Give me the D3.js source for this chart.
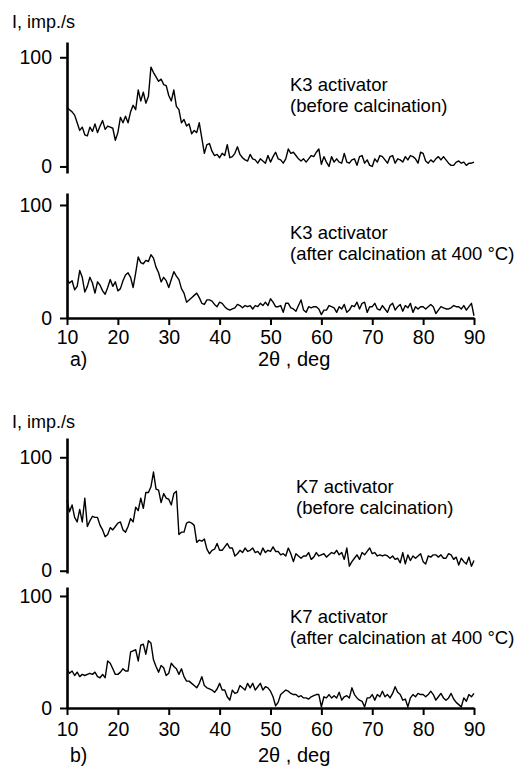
<!DOCTYPE html>
<html><head><meta charset="utf-8">
<script src="https://cdn.jsdelivr.net/npm/d3@7"></script>
<style>
body{margin:0;background:#fff}
svg text{font-family:"Liberation Sans",Arial,sans-serif;fill:#000}
</style>
</head><body>
<svg id="c" width="523" height="767"></svg>
<script>
// sampling grid of 2θ (deg)
const twoTheta = d3.range(10, 90.01, 0.5);

const k3Before = [
54,52,50,47,40,33,36,29,28,36,
32,39,31,37,42,34,37,36,35,24,
31,45,40,46,40,50,56,52,70,60,
68,58,64,91,86,82,78,80,75,74,
65,60,70,55,52,40,43,37,39,30,
33,31,40,26,12,20,21,14,10,11,
8,12,10,20,8,9,12,18,11,8,
6,5,11,7,6,3,7,5,3,10,
4,9,13,7,6,3,7,16,12,13,
10,7,5,7,4,7,10,9,13,16,
2,9,4,0,9,4,7,4,3,12,
4,3,6,7,1,9,10,3,6,1,
0,7,4,10,9,6,3,9,10,3,
7,6,4,9,6,10,9,7,3,13,
12,5,3,6,4,7,9,6,9,6,
3,1,1,4,5,3,4,1,3,3,
4];

const k3After = [
34,31,33,25,28,42,36,23,28,36,
31,22,32,29,24,21,27,34,28,32,
24,26,33,38,40,36,27,40,54,49,
48,51,50,56,53,45,40,32,36,33,
27,34,41,37,34,26,22,14,16,18,
20,22,18,13,12,16,16,15,12,10,
14,13,10,8,7,8,9,12,11,9,
11,10,11,8,11,10,13,11,14,11,
17,14,10,10,11,5,13,13,9,8,
6,11,16,7,5,10,9,10,10,8,
3,7,7,11,10,9,5,10,8,12,
5,7,11,10,14,8,13,14,5,10,
10,13,8,7,11,8,5,11,13,7,
10,12,6,11,9,13,5,10,8,10,
10,8,10,12,10,4,7,10,9,8,
8,9,11,10,10,8,11,7,10,13,
2];

const k7Before = [
62,52,58,47,43,54,43,64,39,44,
48,47,47,40,36,30,32,38,36,39,
42,43,36,34,39,46,43,56,53,64,
55,69,69,74,87,72,71,60,68,64,
63,58,68,70,32,34,34,42,43,42,
40,25,27,26,28,19,15,18,19,24,
18,18,21,24,20,20,13,15,18,16,
20,17,18,20,16,17,14,20,16,18,
17,21,17,17,14,15,13,20,15,8,
15,13,11,13,13,16,10,12,16,13,
14,15,12,14,16,15,18,14,16,10,
20,4,8,11,14,10,16,14,17,20,
15,16,13,14,13,14,13,11,13,10,
11,7,16,6,14,9,13,11,13,15,
8,6,13,12,14,14,12,14,11,11,
15,14,10,12,5,11,8,6,12,4,
9];

const k7After = [
35,31,33,29,32,28,30,29,30,31,
30,32,28,27,30,27,42,40,35,30,
30,32,35,33,33,50,51,52,42,56,
57,48,60,58,43,37,32,38,36,29,
31,40,37,35,30,35,28,24,24,22,
20,18,22,28,20,18,17,16,14,17,
22,16,16,10,7,16,13,14,20,18,
16,22,18,22,16,19,22,16,19,18,
15,10,2,5,12,14,16,15,13,12,
12,10,11,9,9,8,10,11,12,12,
1,10,9,12,9,11,9,14,7,10,
11,9,18,12,9,7,6,1,9,9,
12,7,12,10,15,10,12,9,13,19,
14,12,7,8,1,9,12,10,13,12,
12,10,12,15,12,7,10,13,9,7,
9,13,8,5,3,1,9,6,12,10,
13];

const xTicks = [10,20,30,40,50,60,70,80,90];
const yTicks = [0,100];
const yTitle = "I, imp./s";
const xTitle = "2\u03b8 , deg";
const partLabels = ["a)", "b)"];
const captions = [
  ["K3 activator", "(before calcination)"],
  ["K3 activator", "(after calcination at 400 \u00b0C)"],
  ["K7 activator", "(before calcination)"],
  ["K7 activator", "(after calcination at 400 \u00b0C)"]
];

const svg = d3.select("#c");
const x = d3.scaleLinear().domain([10, 90]).range([67, 474]);

const panels = [
  {data: k3Before, dom: [-6, 114], rng: [173, 42], cap: captions[0], capX: 290, capY: 91, xAxis: false},
  {data: k3After,  dom: [0, 110.6], rng: [318, 193], cap: captions[1], capX: 290, capY: 239, xAxis: true, pad: 5, part: partLabels[0], titleY: 366},
  {data: k7Before, dom: [-2, 117], rng: [573, 438], cap: captions[2], capX: 296, capY: 493, xAxis: false},
  {data: k7After,  dom: [0, 108], rng: [708, 587], cap: captions[3], capX: 290, capY: 623, xAxis: true, pad: 7, part: partLabels[1], titleY: 762}
];

// y titles
svg.append("text").attr("x", 12).attr("y", 28).attr("font-size", 18).text(yTitle);
svg.append("text").attr("x", 12).attr("y", 428).attr("font-size", 18).text(yTitle);

panels.forEach(p => {
  const y = d3.scaleLinear().domain(p.dom).range(p.rng);
  const g = svg.append("g");

  const ya = g.append("g").attr("transform", "translate(67,0)")
    .call(d3.axisLeft(y).tickValues(yTicks).tickSize(7).tickSizeOuter(0).tickPadding(8));
  ya.select(".domain").attr("stroke", "#000").attr("stroke-width", 2.6);
  ya.selectAll(".tick line").attr("stroke", "#000").attr("stroke-width", 2);
  ya.selectAll(".tick text").attr("font-size", 19.5).attr("font-family", "Liberation Sans, Arial, sans-serif");

  if (p.xAxis) {
    const xa = g.append("g").attr("transform", `translate(0,${y(0)})`)
      .call(d3.axisBottom(x).tickValues(xTicks).tickSize(7).tickSizeOuter(0).tickPadding(p.pad));
    xa.select(".domain").attr("stroke", "#000").attr("stroke-width", 2.6);
    xa.selectAll(".tick line").attr("stroke", "#000").attr("stroke-width", 2);
    xa.selectAll(".tick text").attr("font-size", 19.5).attr("font-family", "Liberation Sans, Arial, sans-serif");
    g.append("text").attr("x", 70).attr("y", p.titleY).attr("font-size", 19.5).text(p.part);
    g.append("text").attr("x", 258).attr("y", p.titleY).attr("font-size", 20).text(xTitle);
  }

  const line = d3.line().x((d, i) => x(twoTheta[i])).y(d => y(d));
  g.append("path").datum(p.data).attr("d", line)
    .attr("fill", "none").attr("stroke", "#000").attr("stroke-width", 1.4)
    .attr("stroke-linejoin", "round");

  g.append("text").attr("x", p.capX).attr("y", p.capY).attr("font-size", 18.5).text(p.cap[0]);
  g.append("text").attr("x", p.capX).attr("y", p.capY + 21).attr("font-size", 18.5).text(p.cap[1]);
});
</script>
</body></html>
